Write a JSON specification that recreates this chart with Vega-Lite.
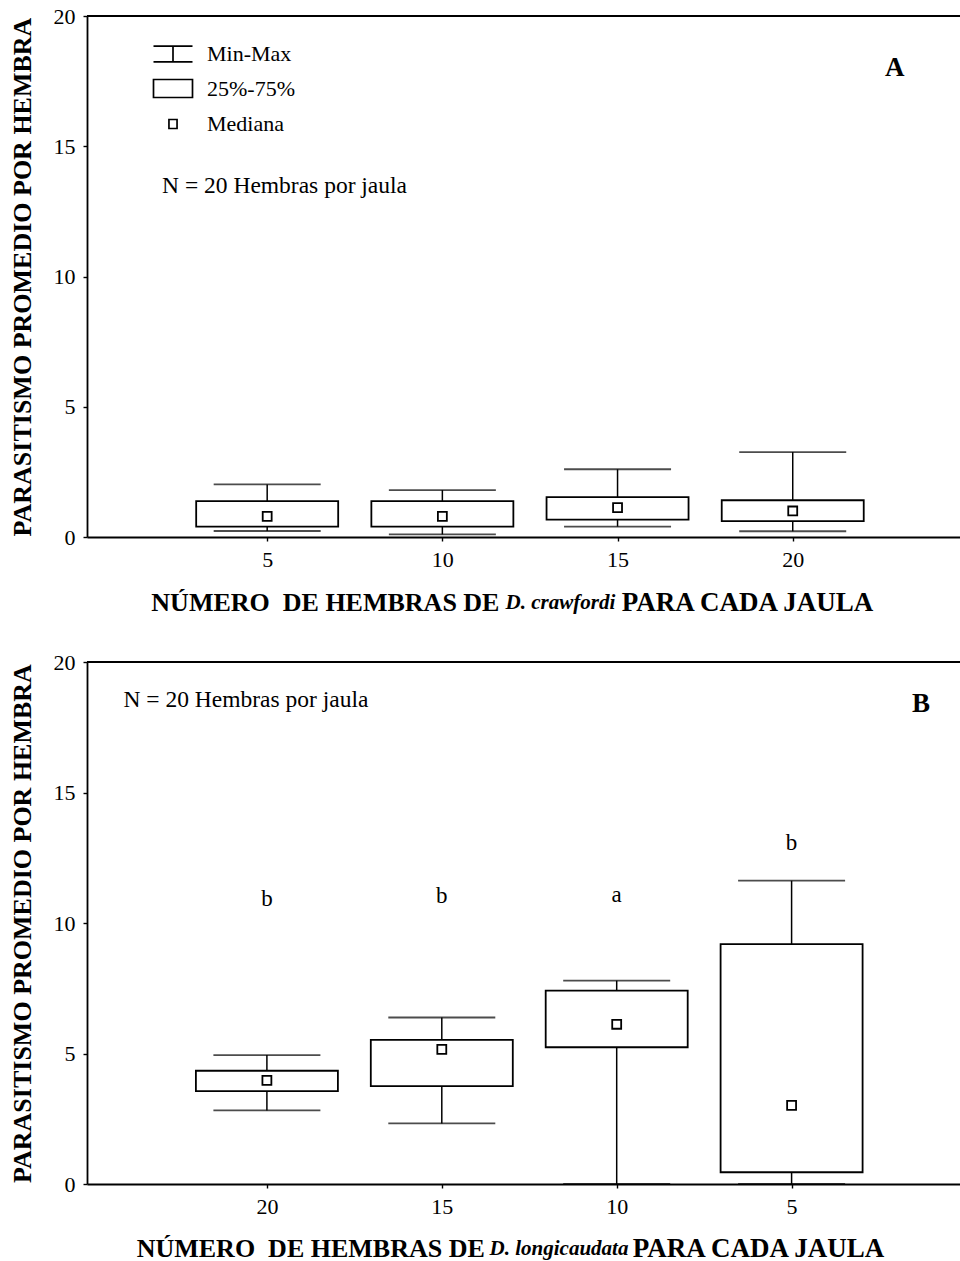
{
  "$schema": "https://vega.github.io/schema/vega-lite/v6.json",
  "padding": {"left": 8, "top": 5, "right": 0, "bottom": 0},
  "spacing": 34,
  "config": {
    "font": "Liberation Serif",
    "view": {"stroke": null},
    "axis": {
      "grid": false,
      "domainColor": "black",
      "domainWidth": 1.8,
      "tickColor": "black",
      "tickSize": 4,
      "tickWidth": 1.4,
      "labelColor": "black",
      "labelFont": "Liberation Serif",
      "labelFontSize": 22,
      "labelPadding": 8,
      "titleFont": "Liberation Serif",
      "titleFontSize": 26,
      "titleFontWeight": "bold",
      "titleColor": "black"
    },
    "text": {"font": "Liberation Serif", "color": "black"}
  },
  "datasets": {
    "panelA": [
      {"hembras": 5, "min": 0.23, "q1": 0.40, "mediana": 0.79, "q3": 1.38, "max": 2.02},
      {"hembras": 10, "min": 0.10, "q1": 0.40, "mediana": 0.79, "q3": 1.38, "max": 1.80},
      {"hembras": 15, "min": 0.40, "q1": 0.67, "mediana": 1.13, "q3": 1.53, "max": 2.60},
      {"hembras": 20, "min": 0.22, "q1": 0.61, "mediana": 1.00, "q3": 1.41, "max": 3.26}
    ],
    "panelB": [
      {"hembras": 20, "min": 2.82, "q1": 3.56, "mediana": 3.97, "q3": 4.34, "max": 4.94, "letra": "b", "y_letra": 10.93},
      {"hembras": 15, "min": 2.32, "q1": 3.75, "mediana": 5.16, "q3": 5.52, "max": 6.38, "letra": "b", "y_letra": 11.05},
      {"hembras": 10, "min": 0.0, "q1": 5.24, "mediana": 6.12, "q3": 7.41, "max": 7.79, "letra": "a", "y_letra": 11.07},
      {"hembras": 5, "min": 0.0, "q1": 0.45, "mediana": 3.01, "q3": 9.19, "max": 11.62, "letra": "b", "y_letra": 13.05}
    ]
  },
  "vconcat": [
    {
      "width": 874,
      "height": 521,
      "data": {"name": "panelA"},
      "layer": [
        {
          "mark": {"type": "rule", "color": "black", "strokeWidth": 1.5},
          "encoding": {
            "x": {"field": "hembras", "type": "quantitative", "title": null, "scale": {"domain": [0, 24.66], "nice": false, "zero": false},
                  "axis": {"values": [5, 10, 15, 20], "format": "d"}},
            "y": {"field": "min", "type": "quantitative", "title": "PARASITISMO PROMEDIO POR HEMBRA", "scale": {"domain": [0, 20], "nice": false},
                  "axis": {"values": [0, 5, 10, 15, 20], "titlePadding": 18}},
            "y2": {"field": "max"}
          }
        },
        {
          "mark": {"type": "bar", "width": 142, "fill": "white", "stroke": "black", "strokeWidth": 1.8},
          "encoding": {
            "x": {"field": "hembras", "type": "quantitative", "title": null},
            "y": {"field": "q1", "type": "quantitative", "title": "PARASITISMO PROMEDIO POR HEMBRA"},
            "y2": {"field": "q3"}
          }
        },
        {
          "mark": {"type": "tick", "orient": "horizontal", "size": 107, "thickness": 1.8, "color": "black"},
          "encoding": {
            "x": {"field": "hembras", "type": "quantitative", "title": null},
            "y": {"field": "max", "type": "quantitative", "title": "PARASITISMO PROMEDIO POR HEMBRA"}
          }
        },
        {
          "mark": {"type": "tick", "orient": "horizontal", "size": 107, "thickness": 1.8, "color": "black"},
          "encoding": {
            "x": {"field": "hembras", "type": "quantitative", "title": null},
            "y": {"field": "min", "type": "quantitative", "title": "PARASITISMO PROMEDIO POR HEMBRA"}
          }
        },
        {
          "mark": {"type": "point", "shape": "square", "filled": false, "size": 80, "color": "black", "strokeWidth": 1.8, "opacity": 1},
          "encoding": {
            "x": {"field": "hembras", "type": "quantitative", "title": null},
            "y": {"field": "mediana", "type": "quantitative", "title": "PARASITISMO PROMEDIO POR HEMBRA"}
          }
        },
        {
          "data": {"values": [{"borde": "superior"}]},
          "mark": {"type": "rule", "color": "black", "strokeWidth": 1.8},
          "encoding": {"y": {"datum": 20, "type": "quantitative", "title": "PARASITISMO PROMEDIO POR HEMBRA"}}
        },
        {
          "data": {"values": [{"leyenda": "Min-Max"}, {"leyenda": "25%-75%"}, {"leyenda": "Mediana"}]},
          "mark": {"type": "point", "filled": false, "color": "black", "opacity": 0},
          "encoding": {
            "shape": {
              "field": "leyenda", "type": "nominal",
              "scale": {
                "domain": ["Min-Max", "25%-75%", "Mediana"],
                "range": [
                  "M-1.3,-0.53H1.3M0,-0.53V0.53M-1.3,0.53H1.3",
                  "M-1.3,-0.6H1.3V0.6H-1.3Z",
                  "M-0.27,-0.3H0.27V0.3H-0.27Z"
                ]
              },
              "legend": {
                "title": null,
                "orient": "none",
                "legendX": 70,
                "legendY": 22,
                "symbolSize": 900,
                "symbolStrokeColor": "black",
                "symbolFillColor": "transparent",
                "symbolStrokeWidth": 1.7,
                "symbolOpacity": 1,
                "labelFont": "Liberation Serif",
                "labelFontSize": 22,
                "labelColor": "black",
                "labelOffset": 18,
                "rowPadding": 6.5
              }
            }
          }
        },
        {
          "data": {"values": [{"nota": "N = 20 Hembras por jaula"}]},
          "mark": {"type": "text", "align": "left", "baseline": "middle", "fontSize": 23.5},
          "encoding": {
            "x": {"datum": 2.0, "type": "quantitative", "title": null},
            "y": {"datum": 13.49, "type": "quantitative", "title": "PARASITISMO PROMEDIO POR HEMBRA"},
            "text": {"field": "nota"}
          }
        },
        {
          "data": {"values": [{"panel": "A"}]},
          "mark": {"type": "text", "align": "center", "baseline": "middle", "fontSize": 27, "fontWeight": "bold"},
          "encoding": {
            "x": {"datum": 22.91, "type": "quantitative", "title": null},
            "y": {"datum": 18.0, "type": "quantitative", "title": "PARASITISMO PROMEDIO POR HEMBRA"},
            "text": {"field": "panel"}
          }
        },
        {
          "data": {"values": [{"t": "NÚMERO\u00a0 DE HEMBRAS DE"}]},
          "mark": {"type": "text", "align": "right", "baseline": "middle", "fontSize": 26, "fontWeight": "bold"},
          "encoding": {
            "x": {"datum": 11.63, "type": "quantitative", "title": null},
            "y": {"datum": -2.55, "type": "quantitative", "title": "PARASITISMO PROMEDIO POR HEMBRA"},
            "text": {"field": "t"}
          }
        },
        {
          "data": {"values": [{"t": "D. crawfordi"}]},
          "mark": {"type": "text", "align": "center", "baseline": "middle", "fontSize": 21, "fontWeight": "bold", "fontStyle": "italic"},
          "encoding": {
            "x": {"datum": 13.37, "type": "quantitative", "title": null},
            "y": {"datum": -2.55, "type": "quantitative", "title": "PARASITISMO PROMEDIO POR HEMBRA"},
            "text": {"field": "t"}
          }
        },
        {
          "data": {"values": [{"t": "PARA CADA JAULA"}]},
          "mark": {"type": "text", "align": "left", "baseline": "middle", "fontSize": 27, "fontWeight": "bold"},
          "encoding": {
            "x": {"datum": 15.12, "type": "quantitative", "title": null},
            "y": {"datum": -2.55, "type": "quantitative", "title": "PARASITISMO PROMEDIO POR HEMBRA"},
            "text": {"field": "t"}
          }
        }
      ]
    },
    {
      "width": 874,
      "height": 522,
      "data": {"name": "panelB"},
      "layer": [
        {
          "mark": {"type": "rule", "color": "black", "strokeWidth": 1.5},
          "encoding": {
            "x": {"field": "hembras", "type": "quantitative", "title": null, "scale": {"domain": [0.3, 25], "nice": false, "zero": false, "reverse": true},
                  "axis": {"values": [5, 10, 15, 20], "format": "d"}},
            "y": {"field": "min", "type": "quantitative", "title": "PARASITISMO PROMEDIO POR HEMBRA", "scale": {"domain": [0, 20], "nice": false},
                  "axis": {"values": [0, 5, 10, 15, 20], "titlePadding": 18}},
            "y2": {"field": "max"}
          }
        },
        {
          "mark": {"type": "bar", "width": 142, "fill": "white", "stroke": "black", "strokeWidth": 1.8},
          "encoding": {
            "x": {"field": "hembras", "type": "quantitative", "title": null},
            "y": {"field": "q1", "type": "quantitative", "title": "PARASITISMO PROMEDIO POR HEMBRA"},
            "y2": {"field": "q3"}
          }
        },
        {
          "mark": {"type": "tick", "orient": "horizontal", "size": 107, "thickness": 1.8, "color": "black"},
          "encoding": {
            "x": {"field": "hembras", "type": "quantitative", "title": null},
            "y": {"field": "max", "type": "quantitative", "title": "PARASITISMO PROMEDIO POR HEMBRA"}
          }
        },
        {
          "mark": {"type": "tick", "orient": "horizontal", "size": 107, "thickness": 1.8, "color": "black"},
          "encoding": {
            "x": {"field": "hembras", "type": "quantitative", "title": null},
            "y": {"field": "min", "type": "quantitative", "title": "PARASITISMO PROMEDIO POR HEMBRA"}
          }
        },
        {
          "mark": {"type": "point", "shape": "square", "filled": false, "size": 80, "color": "black", "strokeWidth": 1.8, "opacity": 1},
          "encoding": {
            "x": {"field": "hembras", "type": "quantitative", "title": null},
            "y": {"field": "mediana", "type": "quantitative", "title": "PARASITISMO PROMEDIO POR HEMBRA"}
          }
        },
        {
          "mark": {"type": "text", "baseline": "middle", "fontSize": 23},
          "encoding": {
            "x": {"field": "hembras", "type": "quantitative", "title": null},
            "y": {"field": "y_letra", "type": "quantitative", "title": "PARASITISMO PROMEDIO POR HEMBRA"},
            "text": {"field": "letra"}
          }
        },
        {
          "data": {"values": [{"borde": "superior"}]},
          "mark": {"type": "rule", "color": "black", "strokeWidth": 1.8},
          "encoding": {"y": {"datum": 20, "type": "quantitative", "title": "PARASITISMO PROMEDIO POR HEMBRA"}}
        },
        {
          "data": {"values": [{"nota": "N = 20 Hembras por jaula"}]},
          "mark": {"type": "text", "align": "left", "baseline": "middle", "fontSize": 23.5},
          "encoding": {
            "x": {"datum": 24.1, "type": "quantitative", "title": null},
            "y": {"datum": 18.55, "type": "quantitative", "title": "PARASITISMO PROMEDIO POR HEMBRA"},
            "text": {"field": "nota"}
          }
        },
        {
          "data": {"values": [{"panel": "B"}]},
          "mark": {"type": "text", "align": "center", "baseline": "middle", "fontSize": 27, "fontWeight": "bold"},
          "encoding": {
            "x": {"datum": 1.3, "type": "quantitative", "title": null},
            "y": {"datum": 18.4, "type": "quantitative", "title": "PARASITISMO PROMEDIO POR HEMBRA"},
            "text": {"field": "panel"}
          }
        },
        {
          "data": {"values": [{"t": "NÚMERO\u00a0 DE HEMBRAS DE"}]},
          "mark": {"type": "text", "align": "right", "baseline": "middle", "fontSize": 26, "fontWeight": "bold"},
          "encoding": {
            "x": {"datum": 13.77, "type": "quantitative", "title": null},
            "y": {"datum": -2.48, "type": "quantitative", "title": "PARASITISMO PROMEDIO POR HEMBRA"},
            "text": {"field": "t"}
          }
        },
        {
          "data": {"values": [{"t": "D. longicaudata"}]},
          "mark": {"type": "text", "align": "center", "baseline": "middle", "fontSize": 21, "fontWeight": "bold", "fontStyle": "italic"},
          "encoding": {
            "x": {"datum": 11.65, "type": "quantitative", "title": null},
            "y": {"datum": -2.48, "type": "quantitative", "title": "PARASITISMO PROMEDIO POR HEMBRA"},
            "text": {"field": "t"}
          }
        },
        {
          "data": {"values": [{"t": "PARA CADA JAULA"}]},
          "mark": {"type": "text", "align": "left", "baseline": "middle", "fontSize": 27, "fontWeight": "bold"},
          "encoding": {
            "x": {"datum": 9.54, "type": "quantitative", "title": null},
            "y": {"datum": -2.48, "type": "quantitative", "title": "PARASITISMO PROMEDIO POR HEMBRA"},
            "text": {"field": "t"}
          }
        }
      ]
    }
  ]
}
